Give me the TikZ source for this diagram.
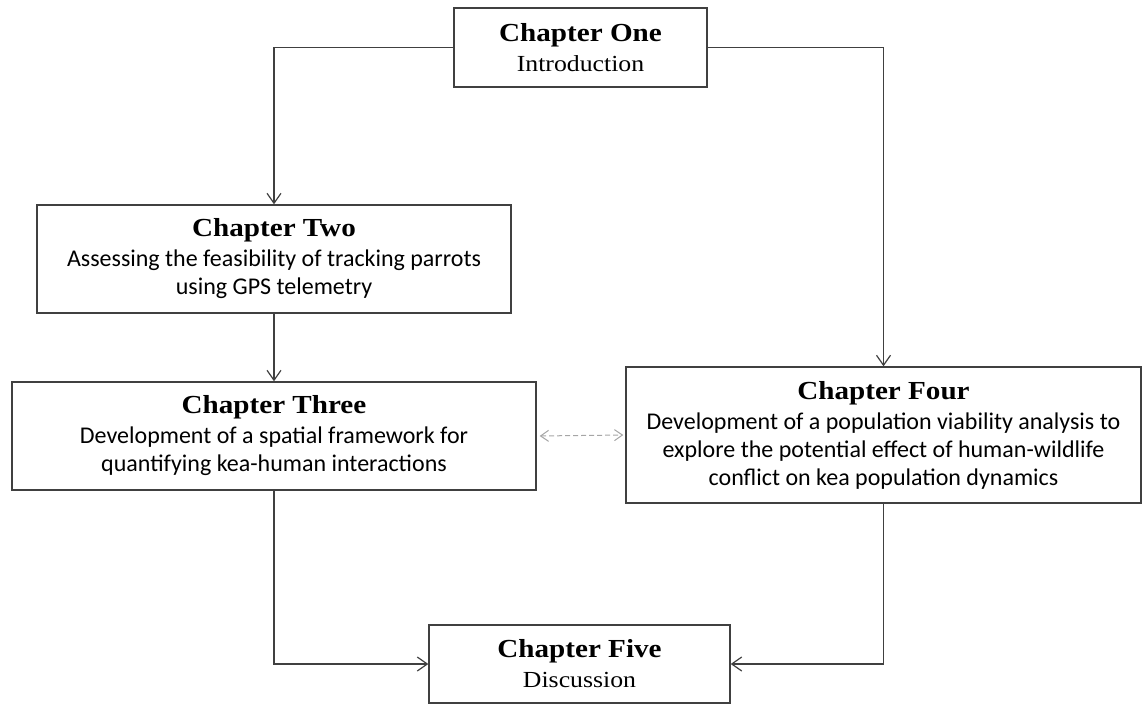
\documentclass[tikz,border=0pt]{standalone}
\usepackage{fontspec}
\setmainfont{Carlito}
\newfontfamily\capfont[FakeStretch=1.12]{Liberation Serif}
\usetikzlibrary{arrows.meta}
\tikzset{bx/.append style={draw=black!75,line width=1.4pt,inner sep=0pt,align=center,font=\fontsize{24}{28}\selectfont}}
\tikzset{ln/.append style={draw=black!75,line width=1.2pt,-{Straight Barb[length=10pt,width=14pt,line width=1.2pt]}}}
\tikzset{dl/.append style={draw=black!35,line width=1pt,dash pattern=on 5pt off 3pt,{Straight Barb[length=8pt,width=11pt,line width=1pt]}-{Straight Barb[length=8pt,width=11pt,line width=1pt]}}}
\newcommand{\hd}[1]{{\capfont\bfseries\fontsize{26}{30}\selectfont #1}}
\newcommand{\sub}[1]{{\capfont\fontsize{23}{28}\selectfont #1}}

\begin{document}
\begin{tikzpicture}[x=1pt,y=-1pt]
                \useasboundingbox (0,0) rectangle (1142,704);
                % chapters
                \node[bx,minimum width=253pt,minimum height=79pt] (one) at (580.5,47.5) {\hd{Chapter One}\\[2pt]\sub{Introduction}};
                \node[bx,minimum width=474pt,minimum height=108pt] (two) at (274,259) {\hd{Chapter Two}\\[2pt]Assessing the feasibility of tracking parrots\\using GPS telemetry};
                \node[bx,minimum width=524pt,minimum height=108pt] (three) at (274,436) {\hd{Chapter Three}\\[2pt]Development of a spatial framework for\\quantifying kea-human interactions};
                \node[bx,minimum width=515pt,minimum height=136pt] (four) at (883.5,435) {\hd{Chapter Four}\\[2pt]Development of a population viability analysis to\\explore the potential effect of human-wildlife\\conflict on kea population dynamics};
                \node[bx,minimum width=301pt,minimum height=78pt] (five) at (579.5,664) {\hd{Chapter Five}\\[2pt]\sub{Discussion}};
                \draw[ln] (one.west) -| (two.north);
                \draw[ln] (one.east) -| (four.north);
                \draw[ln] (two.south) -- (three.north);
                \draw[ln] (three.south) |- (five.west);
                \draw[ln] (four.south) |- (five.east);
                \draw[dl,shorten <=3pt,shorten >=2pt] (three.east) -- (four.west);
            \end{tikzpicture}
\end{document}
